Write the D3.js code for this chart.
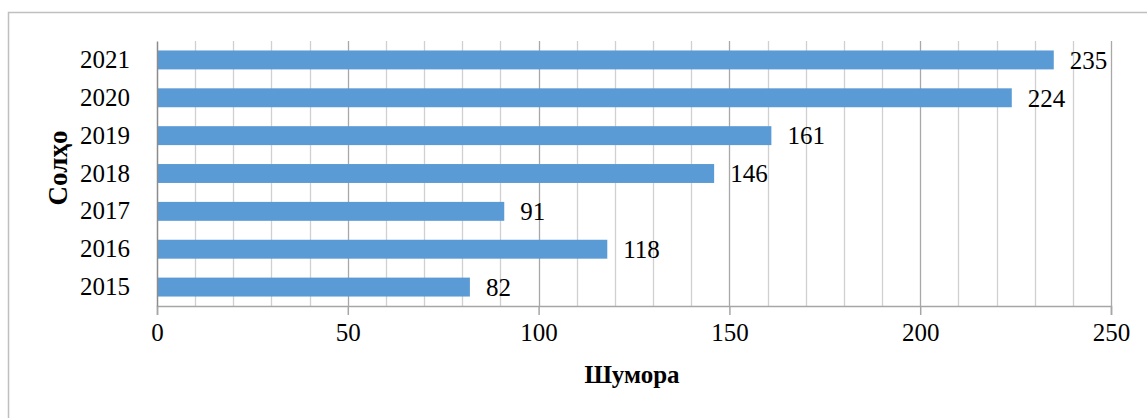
<!DOCTYPE html>
<html>
<head>
<meta charset="utf-8">
<script src="https://cdn.jsdelivr.net/npm/d3@7"></script>
<style>
  html, body { margin: 0; padding: 0; background: #fff; }
  svg { display: block; }
  text { font-family: "Liberation Serif", "Times New Roman", serif; fill: #000; }
</style>
</head>
<body>
<svg id="chart" width="1147" height="418"></svg>
<script>
const categories = ["2015", "2016", "2017", "2018", "2019", "2020", "2021"];
const values = [82, 118, 91, 146, 161, 224, 235];
const xTicks = [0, 50, 100, 150, 200, 250];
const xTitle = "Шумора";
const yTitle = "Солҳо";

const svg = d3.select("#chart");
const W = 1147, H = 418;
const m = { left: 157, right: W - 1111, top: 41, bottom: H - 306 };
const serif = "'Liberation Serif', 'Times New Roman', serif";

// outer border
svg.append("rect")
  .attr("x", 8.5).attr("y", 12.5)
  .attr("width", W + 10).attr("height", H + 10)
  .attr("fill", "none").attr("stroke", "#bfbfbf").attr("stroke-width", 1.5);

const x = d3.scaleLinear().domain([0, 250]).range([m.left, W - m.right]);
const y = d3.scaleBand().domain(categories.slice().reverse())
  .range([m.top, H - m.bottom]).paddingInner(0.5).paddingOuter(0.25);

// gridlines
const minor = d3.range(10, 251, 10).filter(v => v % 50 !== 0);
svg.append("g").selectAll("line").data(minor).join("line")
  .attr("x1", d => Math.round(x(d)) + 0.5).attr("x2", d => Math.round(x(d)) + 0.5)
  .attr("y1", m.top).attr("y2", H - m.bottom)
  .attr("stroke", "#d0d0d0").attr("stroke-width", 1.3);
svg.append("g").selectAll("line").data(xTicks.filter(v => v > 0)).join("line")
  .attr("x1", d => Math.round(x(d)) + 0.5).attr("x2", d => Math.round(x(d)) + 0.5)
  .attr("y1", m.top).attr("y2", H - m.bottom)
  .attr("stroke", "#a8a8a8").attr("stroke-width", 1.3);

// bars
svg.append("g").selectAll("rect").data(categories).join("rect")
  .attr("x", x(0))
  .attr("y", d => y(d))
  .attr("width", (d, i) => x(values[i]) - x(0))
  .attr("height", y.bandwidth())
  .attr("fill", "#5b9bd5");

// value labels
svg.append("g").selectAll("text").data(categories).join("text")
  .attr("x", (d, i) => x(values[i]) + 16)
  .attr("y", d => y(d) + y.bandwidth() / 2)
  .attr("dy", "0.35em")
  .attr("font-size", 25)
  .attr("font-family", serif)
  .text((d, i) => values[i]);

// x axis
const xAxis = svg.append("g")
  .attr("transform", `translate(0,${H - m.bottom})`)
  .call(d3.axisBottom(x).tickValues(xTicks).tickSize(9).tickPadding(8).tickFormat(d3.format("d")));
xAxis.attr("font-family", serif);
xAxis.select(".domain").attr("stroke", "#a6a6a6").attr("stroke-width", 1.5);
xAxis.selectAll(".tick line").attr("stroke", "#a6a6a6").attr("stroke-width", 1.5);
xAxis.selectAll(".tick text").attr("font-size", 25)
  .attr("font-family", serif).attr("fill", "#000");

// y axis
const yAxis = svg.append("g")
  .attr("transform", `translate(${m.left},0)`)
  .call(d3.axisLeft(y).tickSize(0).tickPadding(27));
yAxis.attr("font-family", serif);
yAxis.select(".domain").attr("stroke", "#8c8c8c").attr("stroke-width", 1.5);
yAxis.selectAll(".tick text").attr("font-size", 25)
  .attr("font-family", serif).attr("fill", "#000");

// titles
svg.append("text")
  .attr("x", 632).attr("y", 383)
  .attr("text-anchor", "middle").attr("font-size", 25).attr("font-weight", "bold")
  .attr("font-family", serif)
  .text(xTitle);
svg.append("text")
  .attr("transform", "translate(67,168) rotate(-90)")
  .attr("text-anchor", "middle").attr("font-size", 27).attr("font-weight", "bold")
  .attr("font-family", serif)
  .text(yTitle);
</script>
</body>
</html>
